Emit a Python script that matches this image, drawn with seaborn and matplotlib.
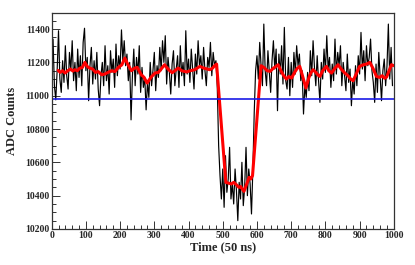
import numpy as np
import pandas as pd
import matplotlib
matplotlib.use("Agg")
import matplotlib.pyplot as plt
import seaborn as sns
from matplotlib.ticker import MultipleLocator

# raw ADC trace, one sample every 4 time bins
raw_t = list(range(0, 1000, 4))
raw_adc = [
    # 0 - 96
    11120, 11340, 11060, 10975, 11150, 11390, 11100, 11020, 11210, 11080,
    11300, 11120, 11040, 11260, 11150, 11330, 11090, 11200, 11030, 11280,
    11110, 11240, 11060, 11320, 11405,
    # 100 - 196
    11150, 11230, 10970, 11180, 11290, 11070, 11210, 11100, 11260, 11040,
    10940, 11120, 11200, 11060, 11300, 11090, 11180, 11010, 11270, 11140,
    11220, 11050, 11310, 11120, 11240,
    # 200 - 296
    11160, 11395, 11210, 11330, 11180, 11250, 11090, 11200, 10855, 11120,
    11280, 11060, 11230, 11130, 11300, 11020, 11170, 11050, 11110, 10915,
    11080, 10990, 11200, 11060, 11150,
    # 300 - 396
    11260, 11030, 11180, 11110, 11290, 11150, 11330, 11200, 11360, 11070,
    11230, 11140, 11010, 11190, 11270, 11060, 11160, 11240, 11050, 11300,
    11120, 11200, 11060, 11390, 11130,
    # 400 - 496
    11220, 11080, 11280, 11160, 11040, 11250, 11130, 11330, 11180, 11240,
    11100, 11290, 11150, 11060, 11230, 11170, 11320, 11120, 11260, 11180,
    11210, 11050, 10700, 10520, 10380,
    # 500 - 596
    10560, 10330, 10640, 10420, 10500, 10690, 10380, 10470, 10350, 10560,
    10430, 10250, 10480, 10380, 10600, 10340, 10450, 10690, 10400, 10560,
    10470, 10290, 10560, 10900, 11150,
    # 600 - 696
    11240, 11100, 11320, 11180, 11060, 11430, 11150, 11060, 11270, 11140,
    11020, 11210, 11330, 11160, 11280, 10910, 11250, 11130, 11300, 11070,
    11410, 11090, 11040, 11230, 11000,
    # 700 - 796
    11200, 11050, 11260, 11130, 11300, 11180, 11250, 11090, 11150, 10890,
    11060, 10990, 11140, 11030, 11270, 11120, 11330, 11170, 11060, 11240,
    11090, 10960, 11200, 11100, 11280,
    # 800 - 896
    11140, 11360, 11160, 11230, 11050, 11190, 11090, 11340, 11130, 11260,
    11180, 11300, 11060, 11200, 11120, 11030, 11250, 11080, 11160, 10940,
    11100, 11010, 11180, 11060, 11240,
    # 900 - 996
    11130, 11380, 11160, 11270, 11090, 11300, 11180, 11230, 11340, 11150,
    11080, 10960, 11190, 11020, 11260, 11110, 10970, 11150, 11220, 11060,
    11180, 11430, 11100, 11290, 11060,
]

# smoothed trace (red)
smooth_t = [19, 25, 32, 39, 47, 55, 62, 68, 75, 82, 90, 97, 104, 112, 120,
            128, 136, 146, 155, 165, 175, 185, 195, 205, 214, 222, 233, 242,
            250, 262, 270, 279, 290, 302, 312, 320, 330, 340, 352, 360, 370,
            380, 394, 405, 418, 425, 433, 445, 455, 462, 470, 476, 482,
            509, 517, 525, 532, 540, 547, 552, 557, 562, 570, 577, 582, 587,
            612, 620, 630, 638, 648, 655, 662, 670, 678, 686, 693, 701, 710,
            718, 725, 733, 743, 752, 758, 764, 772, 778, 784, 792, 803, 810,
            818, 828, 837, 846, 857, 866, 874, 881, 890, 900, 910, 920, 930,
            940, 949, 958, 966, 973, 979, 986, 993, 1000]
smooth_adc = [11152, 11140, 11150, 11136, 11150, 11160, 11148, 11156, 11150,
              11165, 11170, 11200, 11175, 11165, 11160, 11140, 11145, 11126,
              11130, 11140, 11150, 11145, 11170, 11185, 11226, 11190, 11150,
              11165, 11170, 11126, 11110, 11076, 11110, 11136, 11140, 11160,
              11186, 11160, 11138, 11150, 11166, 11150, 11143, 11150, 11156,
              11165, 11176, 11165, 11160, 11156, 11165, 11180, 11190,
              10480, 10475, 10470, 10480, 10465, 10450, 10455, 10440, 10426,
              10470, 10510, 10500, 10520,
              11180, 11170, 11150, 11146, 11165, 11175, 11186, 11150, 11120,
              11100, 11115, 11106, 11140, 11165, 11176, 11120, 11046, 11110,
              11140, 11156, 11140, 11125, 11116, 11150, 11176, 11150, 11136,
              11165, 11186, 11160, 11136, 11120, 11100, 11090, 11130, 11176,
              11185, 11190, 11200, 11160, 11116, 11110, 11120, 11105, 11112,
              11150, 11186, 11180]

threshold = 10980

raw_df = pd.DataFrame({"t": raw_t, "adc": raw_adc})
smooth_df = pd.DataFrame({"t": smooth_t, "adc": smooth_adc})

sns.set_style("ticks")
plt.rcParams["font.family"] = ["Liberation Serif", "DejaVu Serif"]
plt.rcParams["font.weight"] = "bold"

fig = plt.figure(figsize=(4.15, 2.65), dpi=100)
ax = fig.add_axes([0.1245, 0.136, 0.8245, 0.814])

sns.lineplot(data=raw_df, x="t", y="adc", ax=ax, color="black", lw=0.85,
             estimator=None, sort=False)
sns.lineplot(data=smooth_df, x="t", y="adc", ax=ax, color="#ff0000", lw=2.2,
             estimator=None, sort=False)
ax.axhline(threshold, color="#1a1ae6", lw=1.2)

ax.set_xlim(0, 1000)
ax.set_ylim(10200, 11495)
ax.xaxis.set_major_locator(MultipleLocator(100))
ax.xaxis.set_minor_locator(MultipleLocator(20))
ax.yaxis.set_major_locator(MultipleLocator(200))
ax.yaxis.set_minor_locator(MultipleLocator(50))
ax.tick_params(which="both", direction="in", top=False, right=False,
               labelsize=7, pad=1.5, width=0.7, color="#333333")
ax.tick_params(which="major", length=6)
ax.tick_params(which="minor", length=3)
for lab in ax.get_xticklabels() + ax.get_yticklabels():
    lab.set_fontweight("bold")
for sp in ax.spines.values():
    sp.set_linewidth(0.9)
    sp.set_color("#333333")

ax.set_xlabel("Time (50 ns)", fontsize=9, fontweight="bold", labelpad=1)
ax.set_ylabel("ADC Counts", fontsize=9, fontweight="bold", labelpad=5)

fig.savefig("out.png", dpi=100)
